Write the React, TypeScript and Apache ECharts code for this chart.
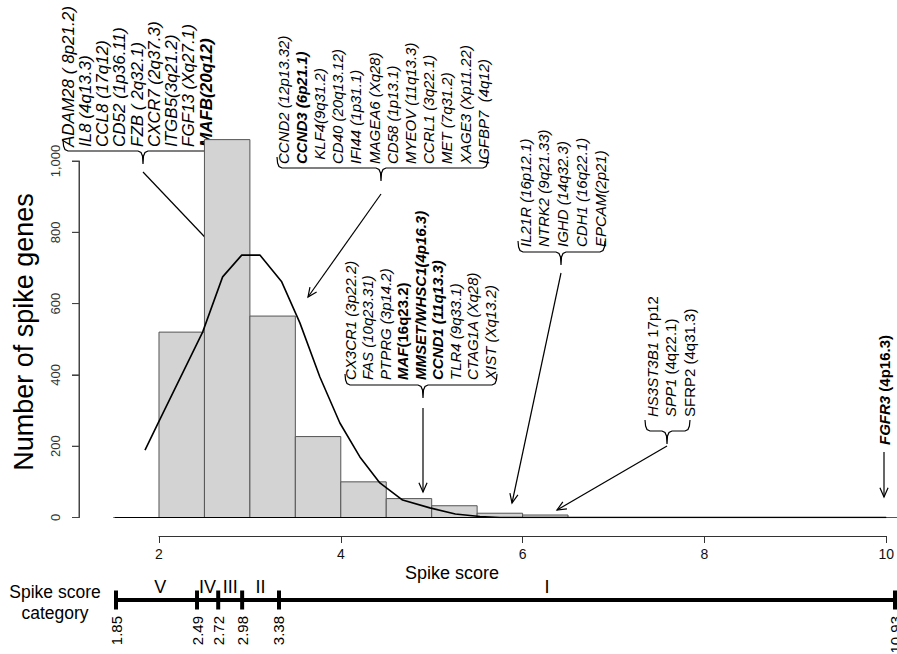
import React, { useEffect, useRef } from "react";
import * as echarts from "echarts";

// ---------------- data ----------------
const binStart = 1.5;
const binWidth = 0.5;
const binCounts = [0, 520, 1060, 565, 227, 100, 53, 33, 12, 7, 0, 0, 0, 0, 0, 0, 0, 0, 1];

const curveX = [1.846, 1.99, 2.48, 2.7, 2.91, 3.11, 3.35, 3.55, 3.77, 3.99, 4.21, 4.43, 4.68, 4.98, 5.26, 5.53, 5.75, 10.0];
const curveY = [189, 265, 520, 675, 736, 736, 661, 546, 394, 265, 170, 97, 49, 27, 10, 3, 0, 0];

const baselineFrom = 1.516;
const baselineTo = 10.0;

const xTickValues = [2, 4, 6, 8, 10];
const yTickValues = [0, 200, 400, 600, 800, 1000];

const categoryBreaks = [1.85, 2.49, 2.72, 2.98, 3.38, 10.93];
const categoryBreakLabels = ["1.85", "2.49", "2.72", "2.98", "3.38", "10.93"];
const categoryNames = ["V", "IV", "III", "II", "I"];
const categoryNameAt = [2.09, 2.605, 2.85, 3.18, 6.29];

type Seg = [string, string];
const genesA: Seg[][] = [
  [["ADAM28 ( 8p21.2)", "i"]],
  [["IL8 (4q13.3)", "i"]],
  [["CCL8 (17q12)", "i"]],
  [["CD52 (1p36.11)", "i"]],
  [["FZB ( 2q32.1)", "i"]],
  [["CXCR7 (2q37.3)", "i"]],
  [["ITGB5(3q21.2)", "i"]],
  [["FGF13 (Xq27.1)", "i"]],
  [["MAFB(20q12)", "bi"]],
];
const genesB: Seg[][] = [
  [["CCND2 (12p13.32)", "i"]],
  [["CCND3 (6p21.1)", "bi"]],
  [[" KLF4(9q31.2)", "i"]],
  [["CD40 (20q13.12)", "i"]],
  [["IFI44 (1p31.1)", "i"]],
  [["MAGEA6 (Xq28)", "i"]],
  [["CD58 (1p13.1)", "i"]],
  [["MYEOV (11q13.3)", "i"]],
  [["CCRL1 (3q22.1)", "i"]],
  [["MET (7q31.2)", "i"]],
  [["XAGE3 (Xp11.22)", "i"]],
  [["IGFBP7  (4q12)", "i"]],
];
const genesC: Seg[][] = [
  [["CX3CR1 (3p22.2)", "i"]],
  [["FAS (10q23.31)", "i"]],
  [["PTPRG (3p14.2)", "i"]],
  [["MAF", "bi"], ["(16q23.2)", "b"]],
  [["MMSET/WHSC1(4p16.3)", "bi"]],
  [["CCND1 (11q13.3)", "bi"]],
  [["TLR4 (9q33.1)", "i"]],
  [["CTAG1A (Xq28)", "i"]],
  [["XIST (Xq13.2)", "i"]],
];
const genesD: Seg[][] = [
  [["IL21R (16p12.1)", "i"]],
  [["NTRK2 (9q21.33)", "i"]],
  [["IGHD (14q32.3)", "i"]],
  [["CDH1 (16q22.1)", "i"]],
  [["EPCAM(2p21)", "i"]],
];
const genesE: Seg[][] = [
  [["HS3ST3B1", "i"], [" 17p12", "n"]],
  [["SPP1", "i"], [" (4q22.1)", "n"]],
  [["SFRP2 (4q31.3)", "n"]],
];
const genesF: Seg[][] = [[["FGFR3", "bi"], [" (4p16.3)", "b"]]];

// ---------------- layout ----------------
const FONT = "Liberation Sans, Arial, Helvetica, sans-serif";
const X_MIN = 1.516;
const X_MAX = 10.119;
const CAT_MIN = 1.61;
const CAT_MAX = 10.07;

function richStyles(size: number) {
  const base = { fontSize: size, fontFamily: FONT, fill: "#000" };
  return {
    i: { ...base, fontStyle: "italic", fontWeight: "normal" },
    bi: { ...base, fontStyle: "italic", fontWeight: "bold" },
    b: { ...base, fontStyle: "normal", fontWeight: "bold" },
    n: { ...base, fontStyle: "normal", fontWeight: "normal" },
  };
}

function geneTexts(lines: Seg[][], x0: number, step: number, bottom: number, size: number) {
  const rich = richStyles(size);
  return lines.map((segs, i) => ({
    type: "text",
    x: x0 + i * step,
    y: bottom,
    rotation: Math.PI / 2,
    silent: true,
    style: {
      text: segs.map(([t, s]) => `{${s}|${t}}`).join(""),
      rich,
      align: "left",
      verticalAlign: "middle",
      fontSize: size,
      fontFamily: FONT,
      fill: "#000",
    },
  }));
}

function brace(x1: number, x2: number, y: number, xm: number) {
  return {
    type: "polyline",
    silent: true,
    shape: {
      points: [
        [x1, y - 11], [x1 + 0.6, y - 5], [x1 + 2, y - 1.5], [x1 + 5, y],
        [xm - 5, y], [xm - 2, y + 1.5], [xm - 0.5, y + 5], [xm, y + 13],
        [xm + 0.5, y + 5], [xm + 2, y + 1.5], [xm + 5, y],
        [x2 - 5, y], [x2 - 2, y - 1.5], [x2 - 0.6, y - 5], [x2, y - 11],
      ],
    },
    style: { stroke: "#000", lineWidth: 1.2, fill: null },
  };
}

function arrow(x1: number, y1: number, x2: number, y2: number) {
  const ang = Math.atan2(y2 - y1, x2 - x1);
  const L = 10;
  const a = 0.42;
  const h1 = [x2 - L * Math.cos(ang - a), y2 - L * Math.sin(ang - a)];
  const h2 = [x2 - L * Math.cos(ang + a), y2 - L * Math.sin(ang + a)];
  return [
    { type: "line", silent: true, shape: { x1, y1, x2, y2 }, style: { stroke: "#000", lineWidth: 1.2 } },
    { type: "polyline", silent: true, shape: { points: [h1, [x2, y2], h2] }, style: { stroke: "#000", lineWidth: 1.2, fill: null } },
  ];
}

function plainText(text: string, x: number, y: number, size: number, rotation = 0, align = "center", vAlign = "middle") {
  return {
    type: "text",
    x,
    y,
    rotation,
    silent: true,
    style: { text, fontSize: size, fontFamily: FONT, fill: "#000", align, verticalAlign: vAlign },
  };
}

function buildOption() {
  const graphic: any[] = [
    ...geneTexts(genesA, 68, 17.25, 147, 17),
    brace(63, 212, 151, 143),
    ...arrow(143, 172, 219, 252),

    ...geneTexts(genesB, 283, 18.2, 164, 15),
    brace(277, 488, 168, 381),
    ...arrow(381, 194, 308, 297),

    ...geneTexts(genesC, 350, 17.5, 380, 15),
    brace(345, 497, 385, 423),
    ...arrow(423, 408, 423, 492),

    ...geneTexts(genesD, 525, 18.75, 247, 15),
    brace(518, 605, 252, 561),
    ...arrow(561, 273, 512, 503),

    ...geneTexts(genesE, 652, 18.5, 417, 15),
    brace(645, 690, 431, 667),
    ...arrow(667, 446, 557, 510),

    ...geneTexts(genesF, 884, 18, 445, 15),
    ...arrow(884, 452, 884, 497),

    plainText("Number of spike genes", 24, 332, 27, Math.PI / 2),
    plainText("Spike score", 452, 573, 18),
    plainText("Spike score", 55, 592, 17.5),
    plainText("category", 55, 613, 17.5),
  ];

  const histData = binCounts.map((c, i) => [binStart + i * binWidth, binStart + (i + 1) * binWidth, c]);
  const curveData = curveX.map((x, i) => [x, curveY[i]]);
  const last = categoryBreaks.length - 1;
  const catPos = (v: number, i: number) => (i === 0 ? CAT_MIN : i === last ? CAT_MAX : v);
  const yMin = yTickValues[0];
  const yMax = yTickValues[yTickValues.length - 1];

  return {
    animation: false,
    backgroundColor: "#fff",
    textStyle: { fontFamily: FONT },
    grid: [
      { left: 115, right: 0, top: 18.4, bottom: 136.5, containLabel: false, outerBoundsMode: "none" },
      { left: 159, width: 727.2, top: 535, height: 1, containLabel: false, outerBoundsMode: "none" },
      { left: 79, width: 30, top: 161, height: 356.5, containLabel: false, outerBoundsMode: "none" },
      { left: 116, width: 779, top: 590, height: 20, containLabel: false, outerBoundsMode: "none" },
    ],
    xAxis: [
      { gridIndex: 0, type: "value", min: X_MIN, max: X_MAX, show: false },
      {
        gridIndex: 1,
        type: "value",
        min: xTickValues[0],
        max: xTickValues[xTickValues.length - 1],
        interval: xTickValues[1] - xTickValues[0],
        axisLine: { show: true, onZero: false, lineStyle: { color: "#333", width: 1 } },
        axisTick: { show: true, length: 7, lineStyle: { color: "#333", width: 1 } },
        axisLabel: { show: true, fontSize: 14, color: "#111", margin: 11, fontFamily: FONT },
        splitLine: { show: false },
      },
      { gridIndex: 2, type: "value", min: 0, max: 1, show: false },
      { gridIndex: 3, type: "value", min: CAT_MIN, max: CAT_MAX, show: false },
    ],
    yAxis: [
      { gridIndex: 0, type: "value", min: 0, max: 1400, show: false },
      { gridIndex: 1, type: "value", min: 0, max: 1, show: false },
      {
        gridIndex: 2,
        type: "value",
        position: "left",
        min: yMin,
        max: yMax,
        interval: yTickValues[1] - yTickValues[0],
        axisLine: { show: true, onZero: false, lineStyle: { color: "#444", width: 1 } },
        axisTick: { show: true, length: 7, lineStyle: { color: "#444", width: 1 } },
        axisLabel: { show: true, rotate: 90, fontSize: 13, color: "#333", margin: 17, fontFamily: FONT },
        splitLine: { show: false },
      },
      { gridIndex: 3, type: "value", min: 0, max: 1, show: false },
    ],
    graphic,
    series: [
      {
        type: "custom",
        xAxisIndex: 0,
        yAxisIndex: 0,
        data: histData,
        encode: { x: [0, 1], y: 2 },
        renderItem: (params: any, api: any) => {
          const p0 = api.coord([api.value(0), api.value(2)]);
          const p1 = api.coord([api.value(1), 0]);
          return {
            type: "rect",
            shape: { x: p0[0], y: p0[1], width: p1[0] - p0[0], height: p1[1] - p0[1] },
            style: { fill: "#d3d3d3", stroke: "#555", lineWidth: 1 },
          };
        },
        silent: true,
        z: 1,
      },
      {
        type: "line",
        xAxisIndex: 0,
        yAxisIndex: 0,
        data: [[baselineFrom, 0], [baselineTo, 0]],
        showSymbol: false,
        lineStyle: { color: "#000", width: 1.2 },
        silent: true,
        z: 2,
      },
      {
        type: "line",
        xAxisIndex: 0,
        yAxisIndex: 0,
        data: curveData,
        showSymbol: false,
        smooth: false,
        lineStyle: { color: "#000", width: 1.6 },
        silent: true,
        z: 3,
      },
      {
        // y axis line and ticks, drawn through the y scale
        type: "custom",
        xAxisIndex: 2,
        yAxisIndex: 2,
        data: [[0, yMin]],
        clip: false,
        renderItem: (params: any, api: any) => {
          const top = api.coord([0, yMax]);
          const bot = api.coord([0, yMin]);
          const children: any[] = [
            { type: "line", shape: { x1: bot[0], y1: bot[1], x2: top[0], y2: top[1] }, style: { stroke: "#444", lineWidth: 1 } },
          ];
          yTickValues.forEach((v) => {
            const p = api.coord([0, v]);
            children.push({ type: "line", shape: { x1: p[0] - 7, y1: p[1], x2: p[0], y2: p[1] }, style: { stroke: "#444", lineWidth: 1 } });
          });
          return { type: "group", children };
        },
        silent: true,
      },
      {
        type: "line",
        xAxisIndex: 3,
        yAxisIndex: 3,
        data: [[CAT_MIN, 0.5], [CAT_MAX, 0.5]],
        showSymbol: false,
        lineStyle: { color: "#000", width: 4 },
        silent: true,
      },
      {
        type: "custom",
        xAxisIndex: 3,
        yAxisIndex: 3,
        data: categoryBreaks.map((v, i) => [catPos(v, i), i]),
        renderItem: (params: any, api: any) => {
          const p = api.coord([api.value(0), 0.5]);
          const lbl = categoryBreakLabels[api.value(1)];
          return {
            type: "group",
            children: [
              { type: "rect", shape: { x: p[0] - 2, y: p[1] - 9.5, width: 4, height: 19 }, style: { fill: "#000" } },
              {
                type: "text",
                x: p[0],
                y: p[1] + 16,
                rotation: Math.PI / 2,
                style: { text: lbl, align: "right", verticalAlign: "middle", fontSize: 15, fontFamily: FONT, fill: "#000" },
              },
            ],
          };
        },
        silent: true,
      },
      {
        type: "custom",
        xAxisIndex: 3,
        yAxisIndex: 3,
        data: categoryNameAt.map((v, i) => [v, i]),
        renderItem: (params: any, api: any) => {
          const p = api.coord([api.value(0), 0.5]);
          return {
            type: "text",
            x: p[0],
            y: p[1] - 4,
            style: {
              text: categoryNames[api.value(1)],
              align: "center",
              verticalAlign: "bottom",
              fontSize: 18,
              fontFamily: FONT,
              fill: "#000",
            },
          };
        },
        silent: true,
      },
    ],
  };
}

export default function App() {
  const ref = useRef<HTMLDivElement>(null);
  useEffect(() => {
    document.body.style.margin = "0";
    const chart = echarts.init(ref.current!, undefined, { renderer: "svg" });
    chart.setOption(buildOption() as any);
    return () => chart.dispose();
  }, []);
  return <div ref={ref} style={{ width: 897, height: 654 }} />;
}
